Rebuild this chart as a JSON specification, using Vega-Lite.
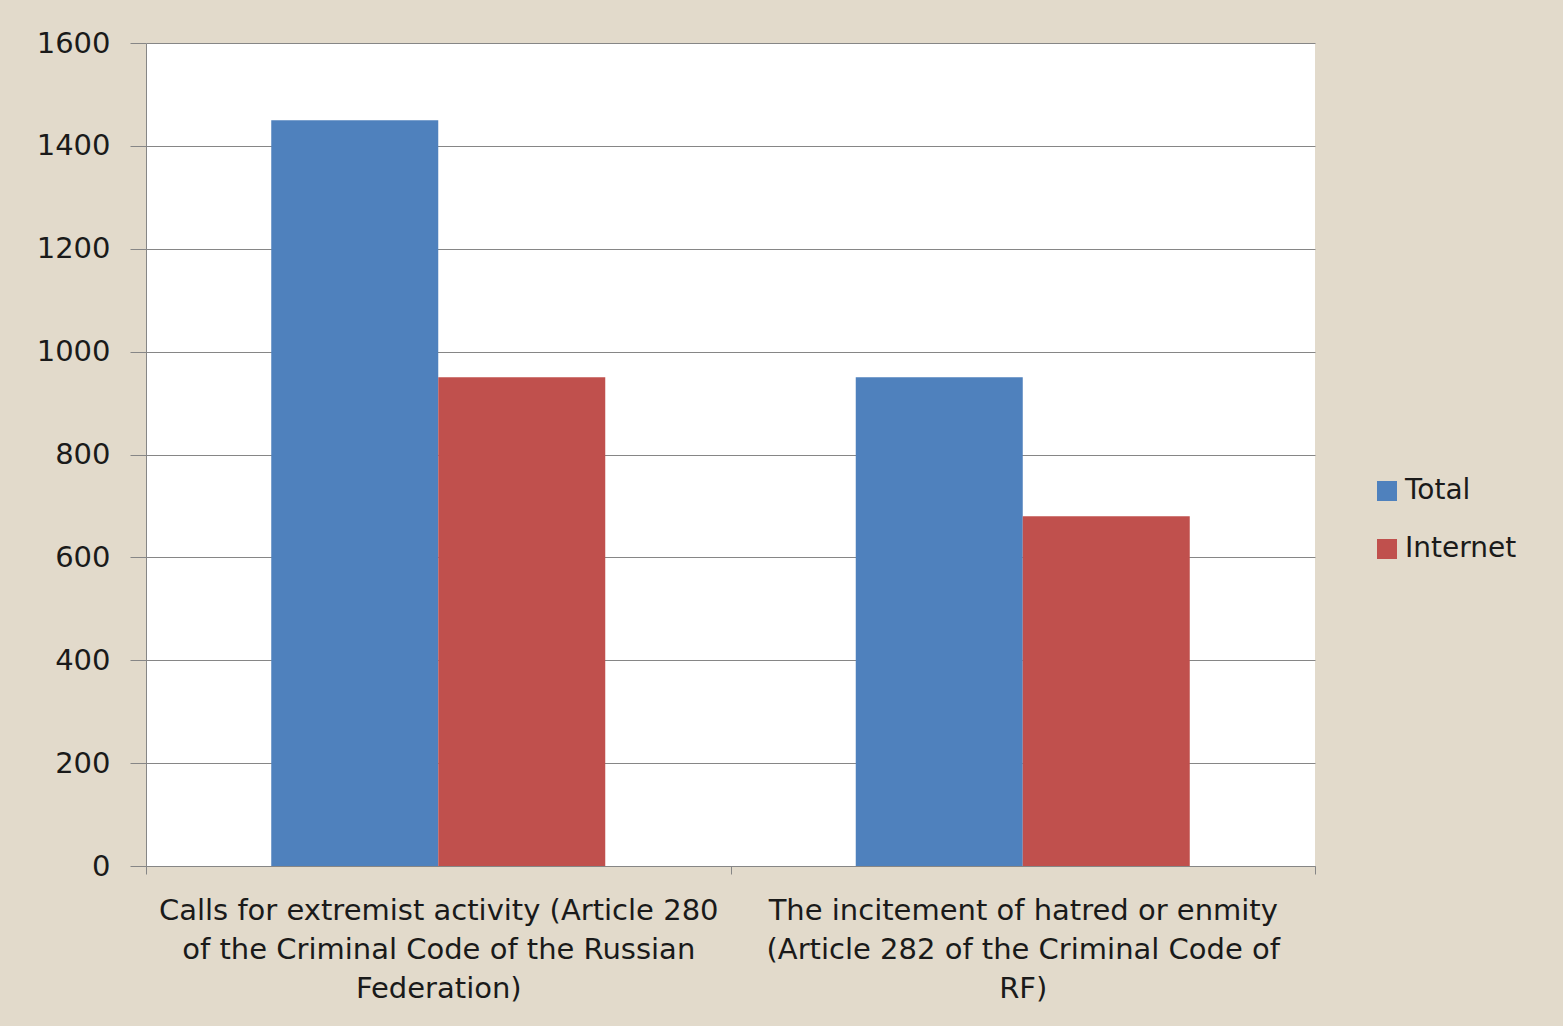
{
  "$schema": "https://vega.github.io/schema/vega-lite/v6.json",
  "width": 1169,
  "height": 823,
  "autosize": {"type": "none"},
  "padding": {"left": 146, "top": 43, "right": 248, "bottom": 160},
  "background": "#e2dacb",
  "config": {
    "view": {"fill": "#ffffff", "stroke": null},
    "font": "DejaVu Sans"
  },
  "data": {
    "values": [
      {"category": "Calls for extremist activity (Article 280 of the Criminal Code of the Russian Federation)", "series": "Total", "value": 1450},
      {"category": "Calls for extremist activity (Article 280 of the Criminal Code of the Russian Federation)", "series": "Internet", "value": 950},
      {"category": "The incitement of hatred or enmity (Article 282 of the Criminal Code of RF)", "series": "Total", "value": 950},
      {"category": "The incitement of hatred or enmity (Article 282 of the Criminal Code of RF)", "series": "Internet", "value": 680}
    ]
  },
  "mark": {"type": "bar"},
  "encoding": {
    "x": {
      "field": "category",
      "type": "nominal",
      "sort": null,
      "scale": {"paddingInner": 0, "paddingOuter": 0},
      "axis": {
        "title": null,
        "labelAngle": 0,
        "tickBand": "extent",
        "tickSize": 8,
        "tickColor": "#868686",
        "domainColor": "#868686",
        "labelFont": "DejaVu Sans",
        "labelFontSize": 29,
        "labelColor": "#1a1a1a",
        "labelLineHeight": 39,
        "labelPadding": 22,
        "labelBaseline": "top",
        "labelLimit": 0,
        "labelExpr": "indexof(datum.label, 'Calls') == 0 ? ['Calls for extremist activity (Article 280', 'of the Criminal Code of the Russian', 'Federation)'] : indexof(datum.label, 'The incitement') == 0 ? ['The incitement of hatred or enmity', '(Article 282 of the Criminal Code of', 'RF)'] : ''"
      }
    },
    "xOffset": {
      "field": "series",
      "type": "nominal",
      "sort": ["Total", "Internet"],
      "scale": {"paddingInner": 0, "paddingOuter": 0.75}
    },
    "y": {
      "field": "value",
      "type": "quantitative",
      "scale": {"domain": [0, 1600], "nice": false},
      "axis": {
        "title": null,
        "values": [0, 200, 400, 600, 800, 1000, 1200, 1400, 1600],
        "format": "d",
        "tickSize": 16,
        "tickColor": "#868686",
        "domainColor": "#868686",
        "gridColor": "#868686",
        "labelFont": "DejaVu Sans",
        "labelFontSize": 29,
        "labelColor": "#1a1a1a",
        "labelPadding": 20
      }
    },
    "color": {
      "field": "series",
      "type": "nominal",
      "sort": ["Total", "Internet"],
      "scale": {"domain": ["Total", "Internet"], "range": ["#4f81bd", "#c0504d"]},
      "legend": {
        "title": null,
        "orient": "none",
        "legendX": 1227,
        "legendY": 434,
        "symbolType": "square",
        "symbolSize": 400,
        "symbolStrokeWidth": 0,
        "symbolOpacity": 1,
        "labelFont": "DejaVu Sans",
        "labelFontSize": 28,
        "labelColor": "#1a1a1a",
        "labelOffset": 4,
        "rowPadding": 30
      }
    }
  }
}
